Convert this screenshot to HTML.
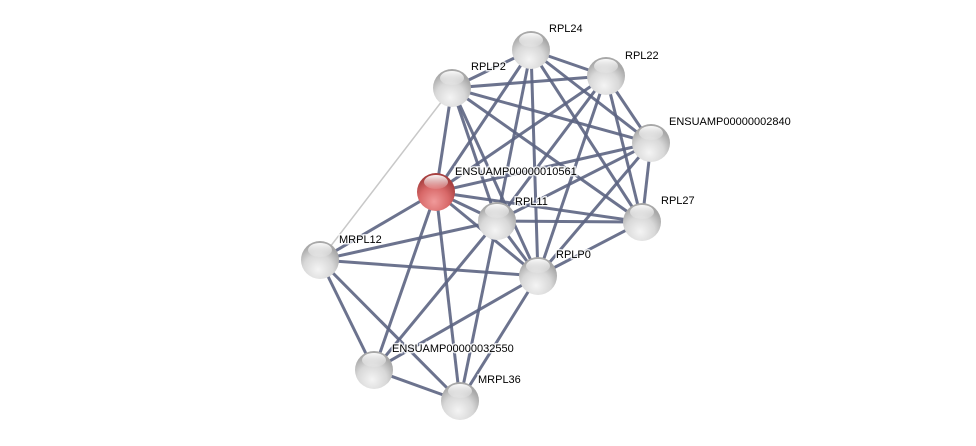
<!DOCTYPE html>
<html><head><meta charset="utf-8"><style>body{margin:0;background:#fff}svg{display:block}</style></head><body>
<svg width="976" height="446" viewBox="0 0 976 446" xmlns="http://www.w3.org/2000/svg">
<defs>
<radialGradient id="g" cx="0.45" cy="0.75" r="0.65"><stop offset="0" stop-color="#f4f4f4"/><stop offset="0.6" stop-color="#d8d8d8"/><stop offset="1" stop-color="#a8a8a8"/></radialGradient>
<radialGradient id="r" cx="0.45" cy="0.75" r="0.65"><stop offset="0" stop-color="#f09a9a"/><stop offset="0.6" stop-color="#d86868"/><stop offset="1" stop-color="#a84040"/></radialGradient>
<linearGradient id="h" x1="0" y1="0" x2="0" y2="1"><stop offset="0" stop-color="#fff" stop-opacity="0.95"/><stop offset="1" stop-color="#fff" stop-opacity="0.1"/></linearGradient>
</defs>
<g stroke="#5c6482" stroke-width="3" stroke-opacity="0.9">
<line x1="452" y1="88" x2="531" y2="50"/><line x1="452" y1="88" x2="606" y2="76"/><line x1="452" y1="88" x2="651" y2="143"/><line x1="452" y1="88" x2="642" y2="222"/><line x1="452" y1="88" x2="497" y2="221"/><line x1="452" y1="88" x2="436" y2="192"/><line x1="452" y1="88" x2="538" y2="276"/>
<line x1="531" y1="50" x2="606" y2="76"/><line x1="531" y1="50" x2="651" y2="143"/><line x1="531" y1="50" x2="642" y2="222"/><line x1="531" y1="50" x2="497" y2="221"/><line x1="531" y1="50" x2="538" y2="276"/><line x1="531" y1="50" x2="436" y2="192"/>
<line x1="606" y1="76" x2="651" y2="143"/><line x1="606" y1="76" x2="642" y2="222"/><line x1="606" y1="76" x2="497" y2="221"/><line x1="606" y1="76" x2="538" y2="276"/><line x1="606" y1="76" x2="436" y2="192"/>
<line x1="651" y1="143" x2="642" y2="222"/><line x1="651" y1="143" x2="497" y2="221"/><line x1="651" y1="143" x2="538" y2="276"/><line x1="651" y1="143" x2="436" y2="192"/>
<line x1="642" y1="222" x2="497" y2="221"/><line x1="642" y1="222" x2="538" y2="276"/><line x1="642" y1="222" x2="436" y2="192"/>
<line x1="497" y1="221" x2="436" y2="192"/><line x1="497" y1="221" x2="538" y2="276"/><line x1="497" y1="221" x2="320" y2="260"/><line x1="497" y1="221" x2="374" y2="370"/><line x1="497" y1="221" x2="460" y2="401"/>
<line x1="436" y1="192" x2="320" y2="260"/><line x1="436" y1="192" x2="374" y2="370"/><line x1="436" y1="192" x2="460" y2="401"/><line x1="436" y1="192" x2="538" y2="276"/>
<line x1="320" y1="260" x2="538" y2="276"/><line x1="320" y1="260" x2="374" y2="370"/><line x1="320" y1="260" x2="460" y2="401"/>
<line x1="538" y1="276" x2="374" y2="370"/><line x1="538" y1="276" x2="460" y2="401"/><line x1="374" y1="370" x2="460" y2="401"/>
</g>
<line x1="452" y1="88" x2="320" y2="260" stroke="#c8c8c8" stroke-width="1.5"/>
<g>
<circle cx="531" cy="50" r="19" fill="url(#g)"/><circle cx="606" cy="76" r="19" fill="url(#g)"/><circle cx="452" cy="88" r="19" fill="url(#g)"/><circle cx="651" cy="143" r="19" fill="url(#g)"/><circle cx="436" cy="192" r="19" fill="url(#r)"/><circle cx="497" cy="221" r="19" fill="url(#g)"/><circle cx="642" cy="222" r="19" fill="url(#g)"/><circle cx="320" cy="260" r="19" fill="url(#g)"/><circle cx="538" cy="276" r="19" fill="url(#g)"/><circle cx="374" cy="370" r="19" fill="url(#g)"/><circle cx="460" cy="401" r="19" fill="url(#g)"/>
</g>
<g fill="url(#h)">
<ellipse cx="531" cy="40" rx="12" ry="7"/><ellipse cx="606" cy="66" rx="12" ry="7"/><ellipse cx="452" cy="78" rx="12" ry="7"/><ellipse cx="651" cy="133" rx="12" ry="7"/><ellipse cx="436" cy="182" rx="12" ry="7"/><ellipse cx="497" cy="211" rx="12" ry="7"/><ellipse cx="642" cy="212" rx="12" ry="7"/><ellipse cx="320" cy="250" rx="12" ry="7"/><ellipse cx="538" cy="266" rx="12" ry="7"/><ellipse cx="374" cy="360" rx="12" ry="7"/><ellipse cx="460" cy="391" rx="12" ry="7"/>
</g>
<g font-family="Liberation Sans, sans-serif" font-size="11" fill="#000" stroke="#fff" stroke-width="3" paint-order="stroke" stroke-opacity="0.8">
<text x="549" y="32">RPL24</text><text x="625" y="59">RPL22</text><text x="471" y="70">RPLP2</text><text x="669" y="125">ENSUAMP00000002840</text><text x="455" y="175">ENSUAMP00000010561</text><text x="515" y="205">RPL11</text><text x="661" y="204">RPL27</text><text x="339" y="243">MRPL12</text><text x="556" y="258">RPLP0</text><text x="392" y="352">ENSUAMP00000032550</text><text x="478" y="383">MRPL36</text>
</g>
</svg>
</body></html>
